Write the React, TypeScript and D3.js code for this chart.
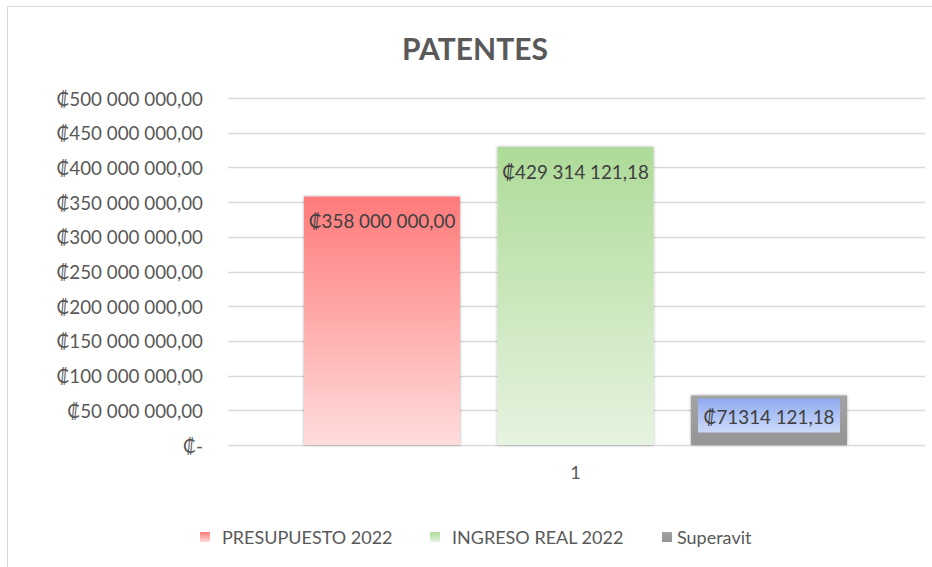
import React from 'react';
import * as d3 from 'd3';

// values
const categories = ['1'];
const seriesNames = ['PRESUPUESTO 2022', 'INGRESO REAL 2022', 'Superavit'];
const seriesValues = [358000000, 429314121.18, 71314121.18];
const dataLabels = ['₡358 000 000,00', '₡429 314 121,18', '₡71314 121,18'];
const yTicks = [0, 50e6, 100e6, 150e6, 200e6, 250e6, 300e6, 350e6, 400e6, 450e6, 500e6];

const W = 932;
const H = 567;
const FONT = 'Lato, "Open Sans", "DejaVu Sans", sans-serif';

const fmtTick = (v: number) => {
  if (v === 0) return '₡-';
  const s = d3.format(',.2f')(v); // 500,000,000.00
  return '₡' + s.replace(/,/g, ' ').replace('.', ',');
};

const gradIds = ['gRed', 'gGreen', 'gGray'];
const legendPos = [
  { sq: 200, tx: 222 },
  { sq: 430, tx: 452 },
  { sq: 662, tx: 677 },
];

const App: React.FC = () => {
  const plot = { left: 228, right: 925, top: 98, bottom: 445 };

  const y = d3.scaleLinear().domain([0, 500e6]).range([plot.bottom, plot.top]);
  const x0 = d3.scaleBand<string>().domain(categories).range([plot.left, plot.right]);
  // bars cluster inside the category band
  const x1 = d3
    .scaleBand<string>()
    .domain(seriesNames)
    .range([x0('1')! + 76, x0('1')! + 76 + 543])
    .paddingInner(0.194);

  return (
    <svg width={W} height={H} style={{ position: 'absolute', left: 0, top: 0, background: '#fff' }}>
      <defs>
        <linearGradient id="gRed" x1="0" y1="0" x2="0" y2="1">
          <stop offset="0" stopColor="#ff7a7a" />
          <stop offset="1" stopColor="#ffdcdc" />
        </linearGradient>
        <linearGradient id="gGreen" x1="0" y1="0" x2="0" y2="1">
          <stop offset="0" stopColor="#aedb98" />
          <stop offset="1" stopColor="#e6f3e0" />
        </linearGradient>
        <linearGradient id="gGray" x1="0" y1="0" x2="0" y2="1">
          <stop offset="0" stopColor="#a3a3a3" />
          <stop offset="1" stopColor="#959595" />
        </linearGradient>
        <linearGradient id="gBlue" x1="0" y1="0" x2="0" y2="1">
          <stop offset="0" stopColor="#8eaaf0" />
          <stop offset="1" stopColor="#cddaf8" />
        </linearGradient>
        <filter id="shadow" x="-10%" y="-10%" width="120%" height="120%">
          <feDropShadow dx="0" dy="0" stdDeviation="1.4" floodColor="#000" floodOpacity="0.35" />
        </filter>
      </defs>

      {/* chart border */}
      <rect x={7.5} y={6.5} width={W - 6} height={H} fill="#fff" stroke="#d9d9d9" />

      <text x={475} y={48} textAnchor="middle" dominantBaseline="central" fontFamily={FONT}
        fontWeight="bold" fontSize={30} fill="#595959">PATENTES</text>

      {/* gridlines + y tick labels */}
      {yTicks.map(t => (
        <g key={t}>
          <line x1={plot.left} x2={plot.right} y1={Math.round(y(t)) + 0.5} y2={Math.round(y(t)) + 0.5}
            stroke="#d9d9d9" strokeWidth={1.5} />
          <text x={203} y={y(t)} textAnchor="end" dominantBaseline="central" fontFamily={FONT}
            fontSize={18.8} fill="#595959">{fmtTick(t)}</text>
        </g>
      ))}

      {/* bars */}
      {seriesNames.map((s, i) => {
        const bx = x1(s)!;
        const bw = x1.bandwidth();
        const top = y(seriesValues[i]);
        return (
          <rect key={s} x={bx} y={top} width={bw} height={plot.bottom - top}
            fill={`url(#${gradIds[i]})`} filter="url(#shadow)" />
        );
      })}

      {/* data labels */}
      {seriesNames.map((s, i) => {
        const cx = x1(s)! + x1.bandwidth() / 2;
        const top = y(seriesValues[i]);
        if (i === 2) {
          const bw = x1.bandwidth();
          return (
            <g key={s}>
              <rect x={x1(s)! + 7} y={top + 3} width={bw - 14} height={34} fill="url(#gBlue)" />
              <text x={cx} y={top + 21} textAnchor="middle" dominantBaseline="central"
                fontFamily={FONT} fontSize={18.8} fill="#404040">{dataLabels[i]}</text>
            </g>
          );
        }
        return (
          <text key={s} x={cx} y={top + 24} textAnchor="middle" dominantBaseline="central"
            fontFamily={FONT} fontSize={18.8} fill="#404040">{dataLabels[i]}</text>
        );
      })}

      {/* category label */}
      {categories.map(c => (
        <text key={c} x={x0(c)! + 76 + 543 / 2} y={472} textAnchor="middle"
          dominantBaseline="central" fontFamily={FONT} fontSize={18} fill="#595959">{c}</text>
      ))}

      {/* legend */}
      {seriesNames.map((s, i) => (
        <g key={s}>
          <rect x={legendPos[i].sq} y={532} width={10} height={10} fill={`url(#${gradIds[i]})`} />
          <text x={legendPos[i].tx} y={537} dominantBaseline="central" fontFamily={FONT} fontSize={18}
            fill="#595959">{s}</text>
        </g>
      ))}
    </svg>
  );
};

export default App;
